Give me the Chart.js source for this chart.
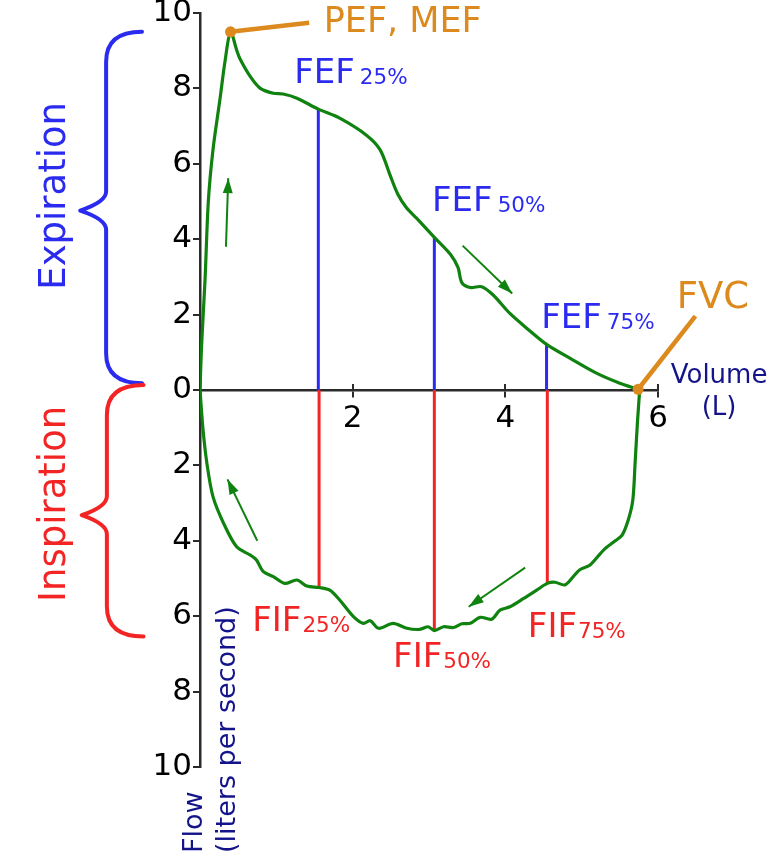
<!DOCTYPE html>
<html><head><meta charset="utf-8">
<script src="https://cdn.jsdelivr.net/npm/chart.js@4/dist/chart.umd.min.js"></script>
<style>html,body{margin:0;padding:0;background:#fff;}#wrap{width:770px;height:851px;position:relative;}</style>
</head><body><div id="wrap"><canvas id="c" width="770" height="851"></canvas></div>
<script>
// ---- data ----
const volumeExp = [0, 0.02, 0.066, 0.109, 0.17, 0.26, 0.33, 0.40, 0.48, 0.52, 0.66, 0.79, 0.96, 1.09, 1.27, 1.55, 1.83, 2.18, 2.36, 2.49, 2.59, 2.70, 2.84, 3.07, 3.28, 3.38, 3.43, 3.54, 3.69, 3.84, 4.06, 4.28, 4.54, 4.85, 5.20, 5.50, 5.74];
const flowExp   = [0, 1.15, 2.92, 5.0, 6.37, 7.69, 8.75, 9.50, 9.02, 8.80, 8.31, 8.00, 7.87, 7.85, 7.74, 7.45, 7.21, 6.76, 6.37, 5.7, 5.2, 4.85, 4.55, 4.05, 3.6, 3.25, 2.85, 2.72, 2.74, 2.52, 2.03, 1.64, 1.21, 0.84, 0.44, 0.18, 0.02];
const volumeInsp = [0, 0.04, 0.09, 0.17, 0.31, 0.48, 0.66, 0.74, 0.83, 0.96, 1.11, 1.27, 1.40, 1.56, 1.70, 1.83, 2.01, 2.14, 2.23, 2.34, 2.53, 2.71, 2.88, 2.99, 3.07, 3.19, 3.32, 3.43, 3.54, 3.67, 3.82, 3.93, 4.06, 4.24, 4.41, 4.55, 4.65, 4.78, 4.89, 4.98, 5.11, 5.29, 5.44, 5.53, 5.61, 5.67, 5.70, 5.73, 5.76];
const flowInsp   = [0, -1.06, -1.94, -2.83, -3.54, -4.16, -4.38, -4.51, -4.82, -4.95, -5.13, -5.04, -5.20, -5.24, -5.31, -5.57, -6.01, -6.19, -6.12, -6.32, -6.19, -6.32, -6.35, -6.28, -6.38, -6.28, -6.30, -6.20, -6.19, -6.03, -6.08, -5.84, -5.75, -5.53, -5.31, -5.13, -5.10, -5.17, -4.95, -4.76, -4.64, -4.24, -4.00, -3.85, -3.45, -2.92, -1.94, -0.88, 0];
const fefVolume = [1.55, 3.07, 4.54];
const fefFlow   = [7.45, 4.05, 1.21];
const fifVolume = [1.56, 3.07, 4.55];
const fifFlow   = [-5.24, -6.38, -5.13];
const percentLabels = ['25%', '50%', '75%'];
const pefPoint = [0.40, 9.50];
const fvcPoint = [5.74, 0.02];
const xTickValues = [0, 2, 4, 6];
const yTickValues = [-10, -8, -6, -4, -2, 0, 2, 4, 6, 8, 10];
const arrowTails = [[0.34, 3.80], [3.44, 3.83], [4.26, -4.71], [0.75, -4.00]];
const arrowTips  = [[0.37, 5.62], [4.09, 2.56], [3.52, -5.75], [0.36, -2.37]];

// ---- styles / annotation geometry ----
const FONT = "'DejaVu Sans'";
const GREEN = '#108210', BLUE = '#2b2bf0', RED = '#f22424', ORANGE = '#dc8a1e', NAVY = '#14148a', AXIS = '#2b2b2b';
const pefLeaderEnd = [1.43, 9.74];
const fvcLeaderEnd = [6.49, 1.96];
const fefLabelPos = [[1.235, 8.135], [3.04, 4.756], [4.47, 1.637]];
const fifLabelPos = [[0.685, -6.385], [2.53, -7.34], [4.295, -6.544]];

const pts = (xs, ys) => xs.map((v, i) => ({x: v, y: ys[i]}));
const datasets = [
  {data: pts(volumeExp, flowExp), showLine: true, borderColor: GREEN, borderWidth: 3.2, pointRadius: 0, tension: 0.3, order: 0},
  {data: pts(volumeInsp, flowInsp), showLine: true, borderColor: GREEN, borderWidth: 3.2, pointRadius: 0, tension: 0.3, order: 0},
  {data: [{x: pefPoint[0], y: pefPoint[1]}, {x: pefLeaderEnd[0], y: pefLeaderEnd[1]}], showLine: true, borderColor: ORANGE, borderWidth: 4.5, pointRadius: 0, clip: false, order: -1},
  {data: [{x: fvcPoint[0], y: fvcPoint[1]}, {x: fvcLeaderEnd[0], y: fvcLeaderEnd[1]}], showLine: true, borderColor: ORANGE, borderWidth: 4.5, pointRadius: 0, clip: false, order: -1},
  {data: [{x: pefPoint[0], y: pefPoint[1]}, {x: fvcPoint[0], y: fvcPoint[1]}], showLine: false, pointRadius: 5.5, pointBackgroundColor: ORANGE, pointBorderWidth: 0, clip: false, order: -2}
];
fefVolume.forEach((v, i) => datasets.push({data: [{x: v, y: 0}, {x: v, y: fefFlow[i]}], showLine: true, borderColor: BLUE, borderWidth: 3, pointRadius: 0, order: 1}));
fifVolume.forEach((v, i) => datasets.push({data: [{x: v, y: 0}, {x: v, y: fifFlow[i]}], showLine: true, borderColor: RED, borderWidth: 3, pointRadius: 0, order: 1}));
arrowTails.forEach((t, i) => datasets.push({data: [{x: t[0], y: t[1]}, {x: arrowTips[i][0], y: arrowTips[i][1]}], showLine: true, borderColor: GREEN, borderWidth: 2, pointRadius: 0, order: 1}));

const overlay = {
  id: 'overlay',
  afterDatasetsDraw(chart) {
    const {ctx} = chart, X = chart.scales.x, Y = chart.scales.y;
    const px = v => X.getPixelForValue(v), py = v => Y.getPixelForValue(v);
    ctx.save();
    // upper halves of x tick marks
    ctx.strokeStyle = AXIS; ctx.lineWidth = 2;
    X.ticks.forEach(t => { if (t.value > 0) { const xx = Math.round(px(t.value)) ; ctx.beginPath(); ctx.moveTo(xx, py(0)); ctx.lineTo(xx, py(0) - 6); ctx.stroke(); } });
    // arrow heads
    ctx.fillStyle = GREEN;
    arrowTips.forEach((tp, i) => {
      const tx = px(tp[0]), ty = py(tp[1]), sx = px(arrowTails[i][0]), sy = py(arrowTails[i][1]);
      const a = Math.atan2(ty - sy, tx - sx), L = 15, W = 5;
      const bx = tx - L * Math.cos(a), by = ty - L * Math.sin(a);
      ctx.beginPath(); ctx.moveTo(tx, ty);
      ctx.lineTo(bx + W * Math.sin(a), by - W * Math.cos(a));
      ctx.lineTo(bx - W * Math.sin(a), by + W * Math.cos(a));
      ctx.closePath(); ctx.fill();
    });
    // braces
    const brace = (xEnd, xVert, xTip, yTop, yMid, yBot, color) => {
      const e = px(xEnd), v = px(xVert), tip = px(xTip), t = py(yTop), m = py(yMid), b = py(yBot);
      const r = 30, q = 19;
      ctx.strokeStyle = color; ctx.lineWidth = 4; ctx.lineCap = 'round'; ctx.lineJoin = 'round';
      ctx.beginPath(); ctx.moveTo(e, t);
      ctx.quadraticCurveTo(v, t, v, t + r);
      ctx.lineTo(v, m - q);
      ctx.quadraticCurveTo(v, m - q * 0.45, tip, m);
      ctx.quadraticCurveTo(v, m + q * 0.45, v, m + q);
      ctx.lineTo(v, b - r);
      ctx.quadraticCurveTo(v, b, e, b);
      ctx.stroke();
    };
    brace(-0.76, -1.23, -1.57, 9.50, 4.76, 0.18, BLUE);
    brace(-0.74, -1.22, -1.55, 0.13, -3.32, -6.54, RED);
    // labels
    ctx.textBaseline = 'alphabetic'; ctx.textAlign = 'left';
    const sub = (main, s, pos, color, gap) => {
      ctx.fillStyle = color; ctx.font = '34px ' + FONT;
      const x0 = px(pos[0]), y0 = py(pos[1]);
      ctx.fillText(main, x0, y0);
      const w = ctx.measureText(main).width;
      ctx.font = '21.5px ' + FONT;
      ctx.fillText(s, x0 + w + gap, y0 + 1);
    };
    fefLabelPos.forEach((p, i) => sub('FEF', percentLabels[i], p, BLUE, 5));
    fifLabelPos.forEach((p, i) => sub('FIF', percentLabels[i], p, RED, 1));
    ctx.fillStyle = ORANGE; ctx.font = '35px ' + FONT;
    ctx.fillText('PEF, MEF', px(1.62), py(9.50));
    ctx.font = '37px ' + FONT;
    ctx.fillText('FVC', px(6.245), py(2.175));
    ctx.fillStyle = NAVY; ctx.font = '26px ' + FONT; ctx.textAlign = 'center';
    ctx.fillText('Volume', px(6.8), py(0.18));
    ctx.fillText('(L)', px(6.8), py(-0.66));
    const rot = (txt, x, y, color, font, align) => {
      ctx.save(); ctx.translate(px(x), py(y)); ctx.rotate(-Math.PI / 2);
      ctx.fillStyle = color; ctx.font = font; ctx.textAlign = align;
      ctx.fillText(txt, 0, 0); ctx.restore();
    };
    rot('Flow', 0.02, -12.28, NAVY, '27px ' + FONT, 'left');
    rot('(liters per second)', 0.465, -12.28, NAVY, '27px ' + FONT, 'left');
    rot('Expiration', -1.77, 5.15, BLUE, '37px ' + FONT, 'center');
    rot('Inspiration', -1.77, -3.02, RED, '37px ' + FONT, 'center');
    ctx.restore();
  }
};

new Chart(document.getElementById('c'), {
  type: 'scatter',
  data: {datasets},
  options: {
    responsive: false, animation: false, devicePixelRatio: 1, events: [],
    layout: {padding: {left: 0, top: 13, right: 112, bottom: 84}},
    plugins: {legend: {display: false}, tooltip: {enabled: false}},
    scales: {
      x: {
        type: 'linear', position: {y: 0}, min: 0, max: 6,
        afterBuildTicks: s => { s.ticks = xTickValues.map(v => ({value: v})); },
        ticks: {color: '#000', font: {family: 'DejaVu Sans', size: 31}, padding: 4, maxRotation: 0, autoSkip: false,
                callback: v => (v === 0 ? '' : String(v))},
        grid: {drawOnChartArea: false, drawTicks: true, tickLength: 6, color: AXIS, lineWidth: 2},
        border: {display: true, color: AXIS, width: 2.5},
        afterFit: s => { s.paddingLeft = 0; s.paddingRight = 0; }
      },
      y: {
        type: 'linear', position: 'left', min: -10, max: 10,
        afterBuildTicks: s => { s.ticks = yTickValues.map(v => ({value: v})); },
        ticks: {color: '#000', font: {family: 'DejaVu Sans', size: 31}, padding: 1, callback: v => String(Math.abs(v))},
        grid: {drawOnChartArea: false, drawTicks: true, tickLength: 7, color: AXIS, lineWidth: 2},
        border: {display: true, color: AXIS, width: 2.5},
        afterFit: s => { s.width = 200; s.paddingTop = 0; s.paddingBottom = 0; }
      }
    }
  },
  plugins: [overlay]
});
</script></body></html>
